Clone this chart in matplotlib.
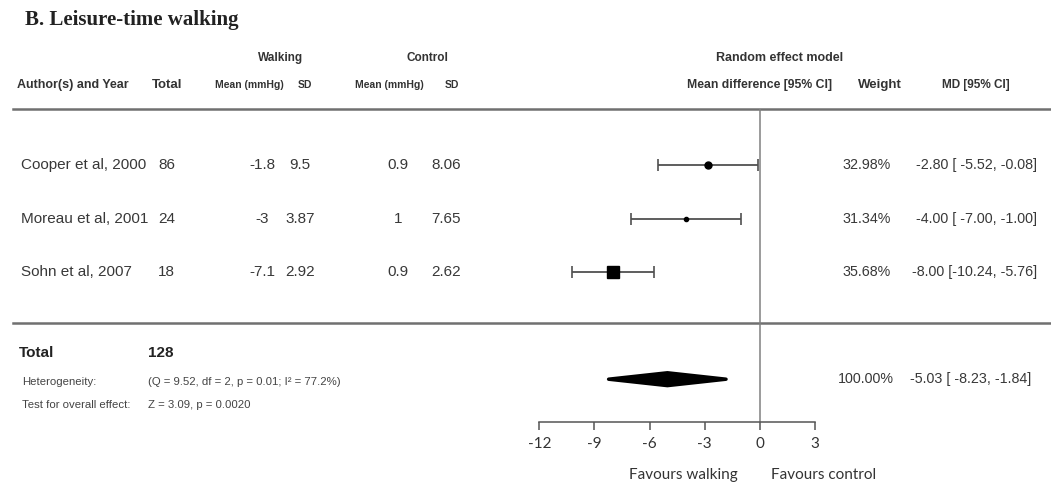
import numpy as np
import matplotlib.pyplot as plt
import matplotlib.transforms as mtransforms
from matplotlib.patches import Polygon

# data
studies = ['Cooper et al, 2000', 'Moreau et al, 2001', 'Sohn et al, 2007']
totals = ['86', '24', '18']
walk_mean = ['-1.8', '-3', '-7.1']
walk_sd = ['9.5', '3.87', '2.92']
ctrl_mean = ['0.9', '1', '0.9']
ctrl_sd = ['8.06', '7.65', '2.62']
md = [-2.80, -4.00, -8.00]
ci_low = [-5.52, -7.00, -10.24]
ci_high = [-0.08, -1.00, -5.76]
weights = [32.98, 31.34, 35.68]
pooled_md = -5.03
pooled_low = -8.23
pooled_high = -1.84
total_n = 128
het_text = '(Q = 9.52, df = 2, p = 0.01; I\u00b2 = 77.2%)'
overall_text = 'Z = 3.09, p = 0.0020'
x_ticks = [-12, -9, -6, -3, 0, 3]

# styling
plt.rcParams['axes.unicode_minus'] = False
sans = ['Liberation Sans', 'DejaVu Sans']
txt_col = '#383838'
markers = ['o', 'o', 's']
msizes = [5, 3, 8.5]

W, H = 1051, 486
fig = plt.figure(figsize=(W / 100, H / 100), dpi=100)

# pixel-space background axes for the table text and rules
bg = fig.add_axes([0, 0, 1, 1])
bg.set_xlim(0, W)
bg.set_ylim(H, 0)
bg.axis('off')

# forest plot axes: x in mean difference units
ax = fig.add_axes([539.3 / W, 64 / H, 275.7 / W, 313 / H])
ax.patch.set_alpha(0)
rows = np.arange(len(studies))
pooled_row = 4
ax.set_xlim(-12, 3)
ax.set_ylim(4.80, -1.05)

ax.axvline(0, color='#808080', lw=1.1, zorder=1)
for i in rows:
    ax.errorbar(md[i], rows[i], xerr=[[md[i] - ci_low[i]], [ci_high[i] - md[i]]],
                fmt=markers[i], ms=msizes[i], color='black', ecolor='#505050',
                elinewidth=1.3, capsize=4, capthick=1.2, zorder=3)

dh = 0.12
diamond = Polygon([[pooled_low, pooled_row], [pooled_md, pooled_row - dh],
                   [pooled_high, pooled_row], [pooled_md, pooled_row + dh]],
                  closed=True, facecolor='black', edgecolor='black', lw=2.5,
                  joinstyle='round', zorder=3)
ax.add_patch(diamond)

for s in ['top', 'left', 'right']:
    ax.spines[s].set_visible(False)
ax.spines['bottom'].set_color('#555555')
ax.spines['bottom'].set_linewidth(1.1)
ax.set_yticks([])
ax.set_xticks(x_ticks)
ax.tick_params(axis='x', length=6, width=1.1, color='#555555', pad=5,
               labelsize=11, labelcolor='#333333')
for lab in ax.get_xticklabels():
    lab.set_fontfamily(['Lato', 'DejaVu Sans'])

# horizontal rules
bg.plot([13, W], [109, 109], color='#707070', lw=1.8)
bg.plot([13, W], [323, 323], color='#707070', lw=1.8)

# title
bg.text(25, 20, 'B. Leisure-time walking', fontsize=15, fontweight='bold',
        family=['Liberation Serif', 'DejaVu Serif'], color='#222222',
        va='center', ha='left')

# header
hdr = dict(fontweight='bold', family=sans, color='#333333', va='center')
bg.text(281, 58, 'Walking', fontsize=8.5, ha='center', **hdr)
bg.text(427, 58, 'Control', fontsize=8.5, ha='center', **hdr)
bg.text(780, 58, 'Random effect model', fontsize=9, ha='center', **hdr)
bg.text(17, 85, 'Author(s) and Year', fontsize=9, ha='left', **hdr)
bg.text(167, 85, 'Total', fontsize=9.5, ha='center', **hdr)
bg.text(249, 85, 'Mean (mmHg)', fontsize=7.5, ha='center', **hdr)
bg.text(305, 85, 'SD', fontsize=7.5, ha='center', **hdr)
bg.text(389, 85, 'Mean (mmHg)', fontsize=7.5, ha='center', **hdr)
bg.text(452, 85, 'SD', fontsize=7.5, ha='center', **hdr)
bg.text(760, 85, 'Mean difference [95% CI]', fontsize=8.8, ha='center', **hdr)
bg.text(880, 85, 'Weight', fontsize=9.5, ha='center', **hdr)
bg.text(976, 85, 'MD [95% CI]', fontsize=8.5, ha='center', **hdr)

# study rows: x in pixels, y in forest rows
tr = mtransforms.blended_transform_factory(bg.transData, ax.transData)
row = dict(fontsize=11, family=sans, color=txt_col, va='center', transform=tr)
rowr = dict(row, fontsize=10.3)
for i in rows:
    y = rows[i]
    bg.text(21, y, studies[i], ha='left', **row)
    bg.text(175, y, totals[i], ha='right', **row)
    bg.text(262, y, walk_mean[i], ha='center', **row)
    bg.text(300, y, walk_sd[i], ha='center', **row)
    bg.text(398, y, ctrl_mean[i], ha='center', **row)
    bg.text(446, y, ctrl_sd[i], ha='center', **row)
    bg.text(842, y, f'{weights[i]:.2f}%', ha='left', **rowr)
    bg.text(1037, y, f'{md[i]:.2f} [{ci_low[i]:6.2f}, {ci_high[i]:.2f}]',
            ha='right', **rowr)

bg.text(838, pooled_row, f'{sum(weights):.2f}%', ha='left', **rowr)
bg.text(1031, pooled_row, f'{pooled_md:.2f} [{pooled_low:6.2f}, {pooled_high:.2f}]',
        ha='right', **rowr)

# totals block
bg.text(19, 353, 'Total', fontsize=11, fontweight='bold', family=sans,
        color='#222222', va='center')
bg.text(148, 353, str(total_n), fontsize=11, fontweight='bold', family=sans,
        color='#222222', va='center')
small = dict(fontsize=8.2, family=sans, color='#444444', va='center')
bg.text(22, 382, 'Heterogeneity:', **small)
bg.text(148, 382, het_text, **small)
bg.text(22, 405, 'Test for overall effect:', **small)
bg.text(148, 405, overall_text, **small)

# favours labels
fav = dict(fontsize=11, family=['Lato', 'DejaVu Sans'], color='#333333', va='center',
           ha='center')
bg.text(683, 475, 'Favours walking', **fav)
bg.text(824, 475, 'Favours control', **fav)

fig.savefig('out.png', dpi=100)
